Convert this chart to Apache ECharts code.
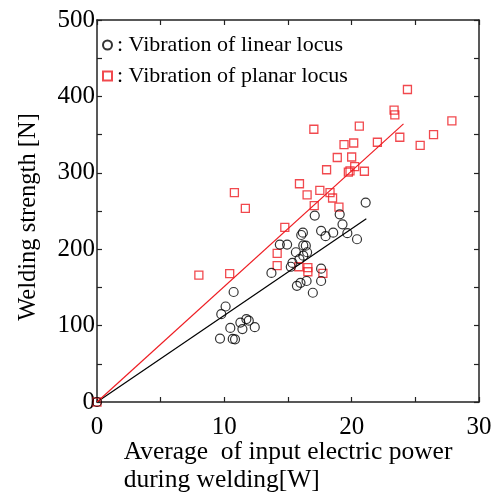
<!DOCTYPE html>
<html>
<head>
<meta charset="utf-8">
<script src="https://cdn.jsdelivr.net/npm/echarts@6/dist/echarts.min.js"></script>
<style>
  html, body { margin: 0; padding: 0; background: #fff; }
  #main { width: 499px; height: 493px; }
</style>
</head>
<body>
<div id="main"></div>
<script>
// x = average input electric power [W], y = welding strength [N]
const linearLocus = [
    [0, 0], [9.66, 83], [9.76, 115], [10.1, 125], [10.47, 97], [10.66, 82.5],
    [10.84, 82], [10.73, 144], [11.26, 104], [11.42, 95.5], [11.73, 108.6],
    [11.92, 106.4], [12.39, 98], [13.7, 169], [14.36, 206], [14.93, 206],
    [15.22, 177], [15.35, 182], [15.62, 196], [15.7, 152], [15.9, 187],
    [15.98, 156], [16.04, 218.6], [16.2, 191.5], [16.17, 221.6], [16.2, 205],
    [16.4, 204.6], [16.46, 158.4], [16.5, 196], [16.95, 143], [17.1, 244],
    [17.6, 224], [17.6, 174.5], [17.6, 158.4], [17.95, 217], [18.55, 221.6],
    [19.06, 245.6], [19.28, 232.5], [19.66, 221], [20.42, 213], [21.1, 261]
];

const planarLocus = [
    [0, 0], [8.0, 166], [10.42, 168], [10.79, 274], [11.65, 253.5],
    [14.15, 194.6], [14.15, 178.4], [14.75, 228.5], [15.85, 177], [15.9, 285.7],
    [16.5, 271], [16.56, 175.8], [16.56, 170.5], [17.03, 357], [17.06, 257],
    [17.5, 277], [17.74, 168.4], [18.03, 304], [18.3, 274], [18.5, 267],
    [18.87, 320], [19.0, 255], [19.4, 336.8], [19.74, 301], [19.87, 302.5],
    [20.0, 320.7], [20.16, 339], [20.24, 308], [20.6, 361], [21.0, 302],
    [22.02, 340], [23.33, 382], [23.39, 375.7], [23.78, 346.5], [24.38, 409],
    [25.38, 336], [26.43, 350], [27.87, 368]
];

// end points of the two fitted lines
const linearFit = [[0, 0], [21.15, 240]];
const planarFit = [[0, 0], [24.07, 364]];

const seriesNames = ['Vibration of linear locus', 'Vibration of planar locus'];
const xLabel = 'Average  of input electric power';
const xLabel2 = 'during welding[W]';
const yLabel = 'Welding strength [N]';

const serif = "'Liberation Serif', 'Times New Roman', serif";
const red = '#ee1c22';
const axisColor = '#222';

document.addEventListener('DOMContentLoaded', init);

function init() {
    drawChart();
}

function boxAxis(pos, min, max, step, labelStep) {
    return {
        type: 'value',
        position: pos,
        min: min,
        max: max,
        interval: step,
        splitLine: { show: false },
        axisLine: { show: true, onZero: false, lineStyle: { color: axisColor, width: 1.5 } },
        axisTick: { show: true, inside: true, length: 5, lineStyle: { color: axisColor, width: 1.2 } },
        axisLabel: {
            show: pos === 'bottom' || pos === 'left',
            color: '#000',
            fontFamily: serif,
            fontSize: 25,
            margin: pos === 'bottom' ? 13 : 2,
            formatter: function (value) {
                return value % labelStep === 0 ? String(value) : '';
            }
        }
    };
}

function drawChart() {
    let myChart = echarts.init(document.getElementById('main'));

    let xBottom = boxAxis('bottom', 0, 30, 5, 10);
    xBottom.name = '{a|' + xLabel + '}\n{a|' + xLabel2 + '}';
    xBottom.nameLocation = 'middle';
    xBottom.nameGap = 36;
    xBottom.nameMoveOverlap = false;
    xBottom.nameTextStyle = {
        color: '#000',
        fontFamily: serif,
        fontSize: 25.5,
        lineHeight: 28,
        align: 'center',
        rich: {
            a: { fontFamily: serif, fontSize: 25.5, lineHeight: 28, color: '#000', align: 'left' }
        }
    };

    let yLeft = boxAxis('left', 0, 500, 50, 100);
    yLeft.name = yLabel;
    yLeft.nameLocation = 'middle';
    yLeft.nameGap = 56;
    yLeft.nameMoveOverlap = false;
    yLeft.nameTextStyle = { color: '#000', fontFamily: serif, fontSize: 24.5, padding: [0, 12, 0, 0] };

    let option = {
        animation: false,
        backgroundColor: '#fff',
        grid: { left: 97, right: 20, top: 20, bottom: 91, containLabel: false, outerBoundsMode: 'none' },
        legend: {
            data: seriesNames,
            orient: 'vertical',
            left: 97,
            top: 29,
            itemWidth: 9,
            itemHeight: 9,
            itemGap: 9,
            formatter: function (name) {
                return ': ' + name;
            },
            textStyle: { color: '#000', fontFamily: serif, fontSize: 22, lineHeight: 22 }
        },
        xAxis: [xBottom, boxAxis('top', 0, 30, 5, 10)],
        yAxis: [yLeft, boxAxis('right', 0, 500, 50, 100)],
        series: [
            {
                name: 'linear fit',
                type: 'line',
                data: linearFit,
                symbol: 'none',
                silent: true,
                lineStyle: { color: '#000', width: 1.2 },
                z: 1
            },
            {
                name: 'planar fit',
                type: 'line',
                data: planarFit,
                symbol: 'none',
                silent: true,
                lineStyle: { color: red, width: 1.2 },
                z: 1
            },
            {
                name: seriesNames[1],
                type: 'scatter',
                data: planarLocus,
                symbol: 'rect',
                symbolSize: 8,
                itemStyle: { color: 'rgba(255,255,255,0)', borderColor: red, borderWidth: 1.3 },
                z: 2
            },
            {
                name: seriesNames[0],
                type: 'scatter',
                data: linearLocus,
                symbol: 'circle',
                symbolSize: 9,
                itemStyle: { color: 'rgba(255,255,255,0)', borderColor: '#000', borderWidth: 1.2 },
                z: 3
            }
        ]
    };

    myChart.setOption(option);
}
</script>
</body>
</html>
